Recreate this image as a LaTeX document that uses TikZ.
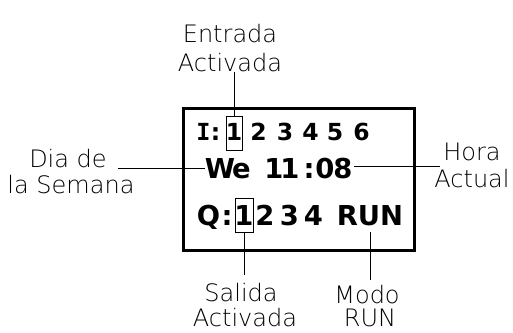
\documentclass[tikz,border=0pt]{standalone}
\usepackage{fontspec}
\setmainfont{DejaVu Sans}
\newfontfamily\lightfont{DejaVu Sans ExtraLight}
\newfontfamily\monofont{DejaVu Sans Mono}
\tikzset{
  lbl/.style={font=\lightfont\fontsize{24}{24}\selectfont, inner sep=0pt, anchor=base},
  dig/.style={font=\bfseries\fontsize{23.5}{24}\selectfont, inner sep=0pt, anchor=base},
  big/.style={font=\bfseries\fontsize{27.4}{28}\selectfont, inner sep=0pt, anchor=base},
  lead/.style={line width=1pt},
  frame/.style={line width=3pt},
  hl/.style={draw, line width=1pt, inner sep=0pt}
}
\begin{document}
\begin{tikzpicture}[x=1pt,y=-1pt]
\fill[white] (0,0) rectangle (513,332);
\useasboundingbox (0,0) rectangle (513,332);
% display frame
\node[draw, frame, minimum width=231.5pt, minimum height=141.5pt, inner sep=0pt] (disp) at (298.75,179.25) {};
% row I
\node[dig, font=\monofont\bfseries\fontsize{23.5}{24}\selectfont] (i0) at (203.5,140) {I};
\node[dig] (ic) at (215.5,140) {:};
\node[hl, minimum width=16pt, minimum height=34pt] (b1) at (234,133) {};
\node[dig] (i1) at (234,140) {1};
\node[dig] (i2) at (258.5,140) {2};
\node[dig] (i3) at (285,140) {3};
\node[dig] (i4) at (310.5,140) {4};
\node[dig] (i5) at (335,140) {5};
\node[dig] (i6) at (361.5,140) {6};
% row We
\node[big] (w1) at (220,178) {W};
\node[big] (w2) at (241.5,178) {e};
\node[big] (t1) at (274,178) {1};
\node[big] (t2) at (290,178) {1};
\node[big] (t3) at (309,178) {:};
\node[big] (t4) at (325,178) {0};
\node[big] (t5) at (343,178) {8};
% row Q
\node[big] (q0) at (208.5,225) {Q};
\node[big] (qc) at (227,225) {:};
\node[hl, minimum width=18pt, minimum height=34pt] (b2) at (244,215) {};
\node[big] (q1) at (244,225) {1};
\node[big] (q2) at (265,225) {2};
\node[big] (q3) at (289.5,225) {3};
\node[big] (q4) at (313.5,225) {4};
\node[big] (run) at (370,225) {RUN};
% labels
\node[lbl] (ent1) at (230,42) {Entrada};
\node[lbl] (ent2) at (230,71) {Activada};
\node[lbl] (dia1) at (68,167) {Dia de};
\node[lbl] (dia2) at (71,193) {la Semana};
\node[lbl] (hora1) at (472,160) {Hora};
\node[lbl] (hora2) at (472,187) {Actual};
\node[lbl] (sal1) at (241,301) {Salida};
\node[lbl] (sal2) at (245,326) {Activada};
\node[lbl] (modo1) at (367,303) {Modo};
\node[lbl] (modo2) at (370,326) {RUN};
% connectors
\coordinate (eTop) at (234,72);
\draw[lead] (b1.north) -- (eTop);
\coordinate (dL) at (118,168);
\coordinate (dR) at (205,168);
\draw[lead] (dL) -- (dR);
\coordinate (hL) at (354,166);
\coordinate (hR) at (440,166);
\draw[lead] (hL) -- (hR);
\coordinate (sBot) at (244,275);
\draw[lead] (b2.south) -- (sBot);
\coordinate (rTop) at (370,232);
\coordinate (rBot) at (370,280);
\draw[lead] (rTop) -- (rBot);
\end{tikzpicture}
\end{document}
